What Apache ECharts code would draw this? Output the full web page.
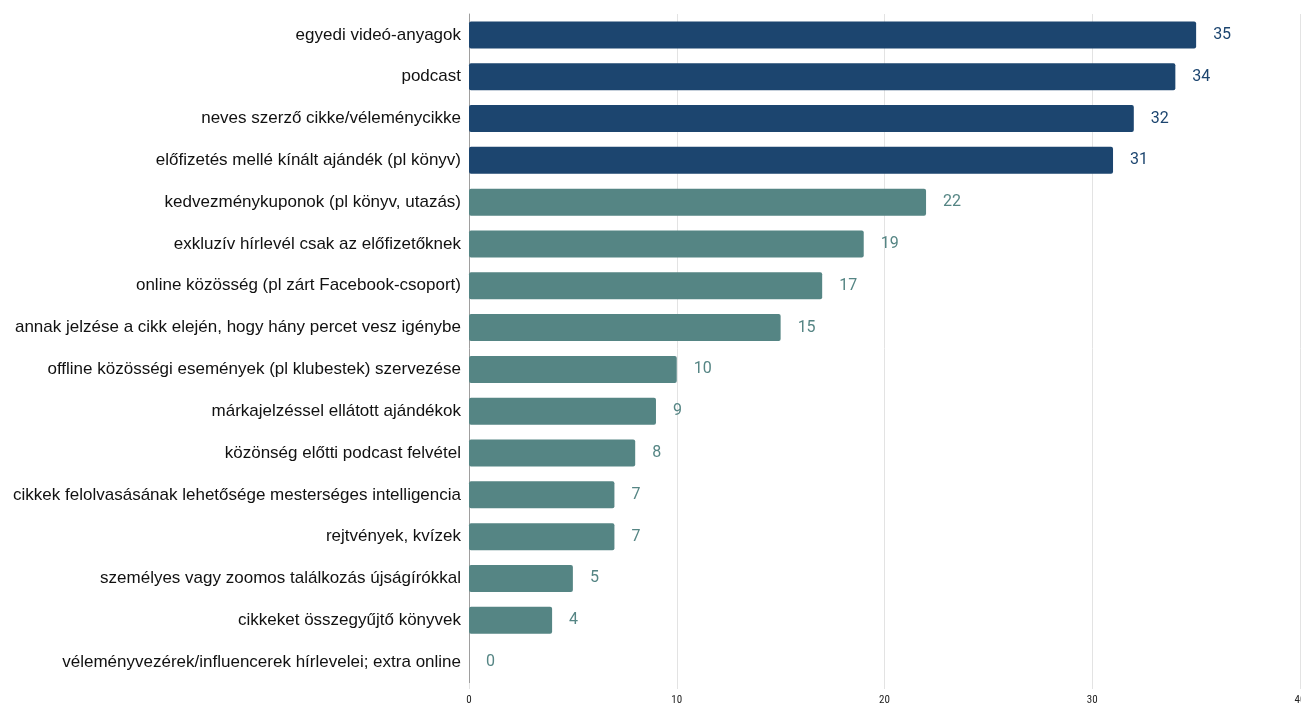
<!DOCTYPE html>
<html>
<head>
<meta charset="utf-8">
<script src="https://cdn.jsdelivr.net/npm/echarts@6/dist/echarts.min.js"></script>
<style>
  html, body { margin: 0; padding: 0; background: #ffffff; }
  #chart { width: 1301px; height: 708px; }
</style>
</head>
<body>
<div id="chart"></div>
<script>
// Categories, top to bottom
const categories = [
  'egyedi videó-anyagok',
  'podcast',
  'neves szerző cikke/véleménycikke',
  'előfizetés mellé kínált ajándék (pl könyv)',
  'kedvezménykuponok (pl könyv, utazás)',
  'exkluzív hírlevél csak az előfizetőknek',
  'online közösség (pl zárt Facebook-csoport)',
  'annak jelzése a cikk elején, hogy hány percet vesz igénybe',
  'offline közösségi események (pl klubestek) szervezése',
  'márkajelzéssel ellátott ajándékok',
  'közönség előtti podcast felvétel',
  'cikkek felolvasásának lehetősége mesterséges intelligencia',
  'rejtvények, kvízek',
  'személyes vagy zoomos találkozás újságírókkal',
  'cikkeket összegyűjtő könyvek',
  'véleményvezérek/influencerek hírlevelei; extra online'
];

// Number of mentions per category
const values = [35, 34, 32, 31, 22, 19, 17, 15, 10, 9, 8, 7, 7, 5, 4, 0];

// The first four options are highlighted
const highlighted = [true, true, true, true, false, false, false, false,
                     false, false, false, false, false, false, false, false];

const NAVY = '#1c456f';
const TEAL = '#558584';

const seriesData = values.map((v, i) => ({
  value: v,
  itemStyle: { color: highlighted[i] ? NAVY : TEAL },
  label: { color: highlighted[i] ? NAVY : TEAL }
}));

const chart = echarts.init(document.getElementById('chart'));
chart.setOption({
  animation: false,
  grid: {
    left: 469, right: 1, top: 14, bottom: 25,
    containLabel: false,
    outerBoundsMode: 'none'
  },
  xAxis: {
    type: 'value',
    min: 0,
    max: 40,
    interval: 10,
    axisLine: { show: false },
    axisTick: { show: true, length: 6, lineStyle: { color: '#e3e3e3' } },
    splitLine: { show: true, lineStyle: { color: '#e3e3e3', width: 1 } },
    axisLabel: {
      fontFamily: 'Liberation Sans Narrow, Arial Narrow, Roboto Condensed, Liberation Sans, sans-serif',
      fontSize: 11,
      color: '#222222',
      margin: 12
    }
  },
  yAxis: {
    type: 'category',
    data: categories,
    inverse: true,
    axisLine: { show: true, lineStyle: { color: '#9e9e9e', width: 1 } },
    axisTick: { show: false },
    axisLabel: {
      fontFamily: 'Liberation Sans, Arial, sans-serif',
      fontSize: 17,
      color: '#111111',
      margin: 8
    }
  },
  series: [{
    type: 'bar',
    data: seriesData,
    barWidth: 27,
    itemStyle: { borderRadius: 2 },
    label: {
      show: true,
      position: 'right',
      distance: 17,
      fontFamily: 'Roboto, sans-serif',
      fontSize: 16
    }
  }]
});
</script>
</body>
</html>
